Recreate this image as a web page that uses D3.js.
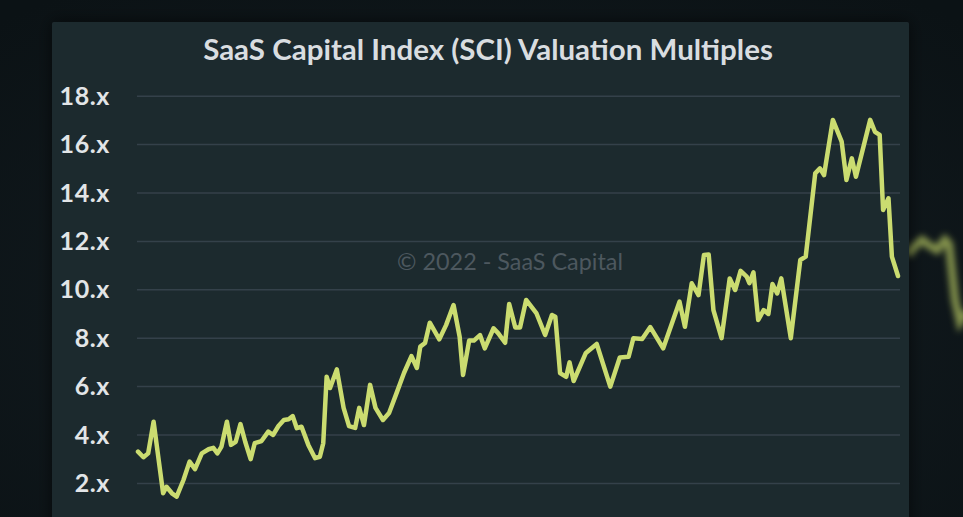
<!DOCTYPE html>
<html>
<head>
<meta charset="utf-8">
<script src="https://cdn.jsdelivr.net/npm/d3@7"></script>
<style>
  html, body { margin: 0; padding: 0; background: #0e1519; }
  svg { display: block; }
</style>
</head>
<body>
<div id="chart"></div>
<script>
// months since start of the series and SCI multiple
const months = [0, 0.8, 1.5, 2.3, 3.7, 4.2, 5.0, 5.7, 6.7, 7.6, 8.4, 9.4, 10.4, 11.1, 11.7, 12.3,
  13.1, 13.7, 14.4, 15.1, 15.8, 16.6, 17.2, 18.2, 19.2, 19.9, 20.7, 21.5, 22.2, 22.8, 23.4, 24.1,
  25.1, 26.1, 26.8, 27.3, 27.8, 28.3, 29.3, 30.3, 31.1, 32.0, 32.6, 33.3, 34.2, 35.0, 36.1, 37.0,
  38.1, 39.2, 40.3, 41.1, 41.6, 42.3, 43.0, 44.4, 45.4, 46.5, 47.4, 47.9, 48.8, 49.5, 50.4, 51.1,
  52.4, 53.1, 54.1, 54.7, 55.6, 56.3, 57.2, 58.7, 60.0, 61.0, 61.5, 62.2, 63.1, 63.6, 64.2, 66.0,
  67.6, 69.6, 71.0, 72.3, 73.0, 74.3, 75.5, 77.4, 79.8, 80.6, 81.6, 82.6, 83.4, 84.1, 84.8, 86.0,
  87.2, 88.0, 88.8, 89.7, 90.1, 90.7, 91.4, 92.2, 92.9, 93.5, 94.2, 94.8, 96.2, 97.6, 98.4, 99.8,
  100.5, 101.1, 102.4, 103.7, 104.4, 105.2, 105.8, 107.9, 108.6, 109.3, 109.8, 110.6, 111.1, 112.0];
const multiples = [3.29, 3.06, 3.22, 4.53, 1.57, 1.84, 1.57, 1.43, 2.12, 2.88, 2.57, 3.22, 3.39, 3.45, 3.22, 3.50,
  4.53, 3.57, 3.70, 4.43, 3.70, 2.98, 3.64, 3.73, 4.12, 3.98, 4.35, 4.60, 4.63, 4.76, 4.26, 4.32,
  3.57, 3.02, 3.08, 3.64, 6.39, 5.92, 6.69, 5.10, 4.35, 4.27, 5.10, 4.39, 6.05, 5.10, 4.60, 4.89,
  5.71, 6.54, 7.24, 6.75, 7.63, 7.78, 8.62, 7.93, 8.52, 9.35, 8.04, 6.46, 7.88, 7.88, 8.11, 7.56,
  8.39, 8.18, 7.79, 9.39, 8.42, 8.42, 9.56, 9.02, 8.11, 8.94, 8.87, 6.54, 6.38, 6.98, 6.21, 7.37,
  7.74, 5.98, 7.18, 7.21, 7.98, 7.95, 8.44, 7.56, 9.49, 8.45, 10.25, 9.76, 11.42, 11.44, 9.14, 7.98,
  10.45, 9.97, 10.76, 10.52, 10.25, 10.70, 8.73, 9.14, 8.98, 10.22, 9.83, 10.45, 7.98, 11.21, 11.35, 14.79,
  15.00, 14.72, 17.00, 16.10, 14.52, 15.41, 14.65, 17.00, 16.51, 16.38, 13.28, 13.76, 11.35, 10.55];

// the neighbouring (blurred) chart peeking in on the right
const nextMonths = [0, 5, 14, 22, 29, 37, 41, 47, 52, 58];
const nextMultiples = [11.42, 11.71, 12.04, 11.79, 11.62, 12.04, 11.87, 9.56, 8.65, 9.06];

const yTicks = [2, 4, 6, 8, 10, 12, 14, 16, 18];
const title = 'SaaS Capital Index (SCI) Valuation Multiples';
const watermark = '\u00a9 2022 - SaaS Capital';

const width = 963, height = 517;

const svg = d3.select('#chart').append('svg')
    .attr('width', width)
    .attr('height', height);

const defs = svg.append('defs');
defs.append('filter').attr('id', 'blur')
    .attr('x', '-20%').attr('y', '-20%').attr('width', '140%').attr('height', '140%')
  .append('feGaussianBlur').attr('stdDeviation', 3);
const shadow = defs.append('filter').attr('id', 'shadow')
    .attr('x', '-10%').attr('y', '-10%').attr('width', '120%').attr('height', '120%');
shadow.append('feDropShadow')
    .attr('dx', 0).attr('dy', 0).attr('stdDeviation', 8)
    .attr('flood-color', '#000').attr('flood-opacity', 0.6);

const bg = defs.append('radialGradient').attr('id', 'bg')
    .attr('cx', '50%').attr('cy', '60%').attr('r', '75%');
bg.append('stop').attr('offset', '0%').attr('stop-color', '#141d22');
bg.append('stop').attr('offset', '100%').attr('stop-color', '#0b1215');

svg.append('rect')
    .attr('width', width).attr('height', height)
    .attr('fill', 'url(#bg)');

const y = d3.scaleLinear().domain([0, 18]).range([531.3, 95.7]);

// blurred line of the next slide, behind the panel
const xNext = d3.scaleLinear().domain([0, 58]).range([908, 966]);
svg.append('path')
    .datum(nextMonths.map((m, i) => [m, nextMultiples[i]]))
    .attr('fill', 'none')
    .attr('stroke', '#b4c460')
    .attr('stroke-width', 8)
    .attr('stroke-opacity', 0.7)
    .attr('filter', 'url(#blur)')
    .attr('d', d3.line().x((d) => xNext(d[0])).y((d) => y(d[1])));

// chart panel
svg.append('rect')
    .attr('x', 52).attr('y', 22)
    .attr('width', 857).attr('height', 520)
    .attr('rx', 2)
    .attr('fill', '#1e292f')
    .attr('filter', 'url(#shadow)');

const x = d3.scaleLinear().domain([0, 112]).range([138, 898]);

const yAxis = svg.append('g')
    .attr('transform', 'translate(137,0)')
    .call(d3.axisLeft(y)
      .tickValues(yTicks)
      .tickSize(-763)
      .tickPadding(27)
      .tickFormat((d) => `${d}.x`));

yAxis.select('.domain').remove();
yAxis.selectAll('.tick line')
    .attr('stroke', '#34414a')
    .attr('stroke-width', 1.5);
yAxis.selectAll('.tick text')
    .attr('fill', '#e2e5e7')
    .style('font-family', 'Lato, "Open Sans", sans-serif')
    .style('font-weight', 700)
    .style('font-size', '25px')
    .style('letter-spacing', '0.6px')
    .attr('dy', '0.34em');

// watermark
const mark = svg.append('text')
    .attr('x', 510).attr('y', 270)
    .attr('text-anchor', 'middle')
    .style('font-family', 'Lato, "Open Sans", sans-serif')
    .style('font-size', '22px')
    .attr('fill', '#4d585f')
    .text(watermark);
const markW = mark.node().getComputedTextLength();
mark.style('font-size', (22 * 226 / markW) + 'px');

// title
const titleText = svg.append('text')
    .attr('x', 488).attr('y', 60)
    .attr('text-anchor', 'middle')
    .style('font-family', 'Lato, "Open Sans", sans-serif')
    .style('font-weight', 700)
    .style('font-size', '26px')
    .attr('fill', '#d9dde0')
    .text(title);
const titleW = titleText.node().getComputedTextLength();
titleText.style('font-size', (26 * 570 / titleW) + 'px');

// SCI line
svg.append('path')
    .datum(months.map((m, i) => [m, multiples[i]]))
    .attr('fill', 'none')
    .attr('stroke', '#cbdc70')
    .attr('stroke-width', 4.5)
    .attr('stroke-linejoin', 'round')
    .attr('stroke-linecap', 'round')
    .attr('d', d3.line().x((d) => x(d[0])).y((d) => y(d[1])));
</script>
</body>
</html>
